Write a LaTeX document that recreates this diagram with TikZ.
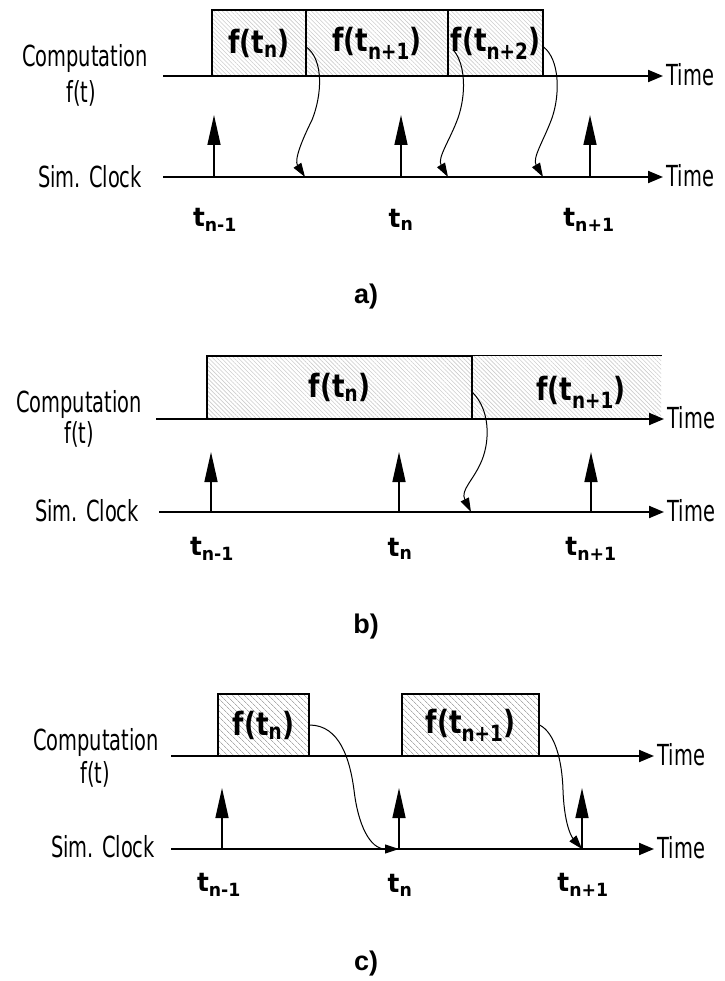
\documentclass[tikz,border=0pt]{standalone}
\usepackage{fontspec}
\setmainfont{Liberation Sans}
\newfontfamily\narrowsans[FakeStretch=0.67]{DejaVu Sans}
\newfontfamily\labsans[FakeStretch=0.95]{DejaVu Sans}
\newfontfamily\boxsans[FakeStretch=0.82]{DejaVu Sans}
\usetikzlibrary{arrows.meta, patterns.meta}

\begin{document}
\begin{tikzpicture}[x=1pt, y=-1pt,
      comp/.style={draw, line width=1.2pt, inner sep=0pt,
                   pattern={Lines[angle=-45, distance=3pt, line width=.6pt]}, pattern color=gray!40,
                   font=\boxsans\bfseries\fontsize{32}{35}\selectfont},
      compc/.style={comp, pattern={Lines[angle=-45, distance=4pt, line width=.8pt]}, pattern color=gray!65},
      flab/.style={font=\boxsans\bfseries\fontsize{32}{35}\selectfont},
      edge/.style={line width=1.2pt},
      side/.style={font=\narrowsans\fontsize{29}{32}\selectfont},
      tlab/.style={font=\labsans\bfseries\fontsize{26}{30}\selectfont},
      panel/.style={font=\bfseries\fontsize{27}{30}\selectfont},
      axis/.style={-{Triangle[length=15pt, width=12pt]}, line width=2pt},
      clk/.style={-{Triangle[length=30pt, width=13pt]}, line width=1.5pt},
      ar/.style={-{Triangle[length=14pt, width=9pt]}, line width=1pt}]

    \useasboundingbox (0,0) rectangle (724,981);

    % a)
    \node[side] (a-comp) at (85,59) {Computation};
    \node[side] (a-ft) at (81,93) {f(t)};
    \node[side] (a-sim) at (90,177) {Sim. Clock};
    \node[comp, minimum width=94pt, minimum height=66pt] (a-f1) at (259,43) {f(t\textsubscript{n})};
    \node[comp, minimum width=142pt, minimum height=66pt] (a-f2) at (377,43) {f(t\textsubscript{n+1})};
    \node[comp, minimum width=95pt, minimum height=66pt] (a-f3) at (495.5,43) {f(t\textsubscript{n+2})};
    \node[side, anchor=west] (a-ctime) at (663,75) {Time};
    \node[side, anchor=west] (a-stime) at (663,176) {Time};
    \coordinate (a-c0) at (163,76);
    \coordinate (a-s0) at (163,177);
    \draw[axis] (a-c0) -- (a-c0 -| a-ctime.west);
    \draw[axis] (a-s0) -- (a-s0 -| a-stime.west);
    \coordinate (a-t1) at (214,177);
    \coordinate (a-t1u) at (214,115);
    \coordinate (a-t2) at (401,177);
    \coordinate (a-t2u) at (401,115);
    \coordinate (a-t3) at (590,177);
    \coordinate (a-t3u) at (590,115);
    \draw[clk] (a-t1) -- (a-t1u);
    \draw[clk] (a-t2) -- (a-t2u);
    \draw[clk] (a-t3) -- (a-t3u);
    \node[tlab] (a-l1) at (215,220) {t\textsubscript{n-1}};
    \node[tlab] (a-l2) at (401,220) {t\textsubscript{n}};
    \node[tlab] (a-l3) at (589,220) {t\textsubscript{n+1}};
    \coordinate (a-e1) at (305,177);
    \coordinate (a-e2) at (448,177);
    \coordinate (a-e3) at (543,177);
    \draw[ar] ([yshift=-4pt]a-f1.east) .. controls (324,60) and (322,95) .. (312,120)
              .. controls (302,140) and (294,160) .. (a-e1);
    \draw[ar] ([shift={(6pt,-7pt)}]a-f3.west) .. controls (466,65) and (466,95) .. (458,118)
              .. controls (450,140) and (437,158) .. (a-e2);
    \draw[ar] ([yshift=-4pt]a-f3.east) .. controls (560,60) and (560,95) .. (552,118)
              .. controls (544,140) and (532,158) .. (a-e3);
    \node[panel] (a-cap) at (366,297) {a)};

    % b)
    \node[side] (b-comp) at (79,404) {Computation};
    \node[side] (b-ft) at (79,434) {f(t)};
    \node[side] (b-sim) at (87,511) {Sim. Clock};
    \node[comp, draw=none, minimum width=189pt, minimum height=63pt] (b-f2) at (566.5,387.5) {};
    \node[comp, minimum width=265pt, minimum height=63pt] (b-f1) at (339.5,387.5) {f(t\textsubscript{n})};
    \draw[edge] (b-f1.north east) -- (b-f2.north east);
    \node[flab] (b-l2) at (581,392) {f(t\textsubscript{n+1})};
    \node[side, anchor=west] (b-ctime) at (664,418) {Time};
    \node[side, anchor=west] (b-stime) at (664,511) {Time};
    \coordinate (b-c0) at (156,419);
    \coordinate (b-s0) at (159,512);
    \draw[axis] (b-c0) -- (b-c0 -| b-ctime.west);
    \draw[axis] (b-s0) -- (b-s0 -| b-stime.west);
    \coordinate (b-t1) at (211,512);
    \coordinate (b-t1u) at (211,452);
    \coordinate (b-t2) at (399,512);
    \coordinate (b-t2u) at (399,452);
    \coordinate (b-t3) at (591,512);
    \coordinate (b-t3u) at (591,452);
    \draw[clk] (b-t1) -- (b-t1u);
    \draw[clk] (b-t2) -- (b-t2u);
    \draw[clk] (b-t3) -- (b-t3u);
    \node[tlab] (b-l1) at (212,549) {t\textsubscript{n-1}};
    \node[tlab] (b-l2) at (400,549) {t\textsubscript{n}};
    \node[tlab] (b-l3) at (591,549) {t\textsubscript{n+1}};
    \coordinate (b-e1) at (471,512);
    \draw[ar] ([yshift=-5pt]b-f1.east) .. controls (490,410) and (490,440) .. (482,460)
              .. controls (474,480) and (460,490) .. (b-e1);
    \node[panel] (b-cap) at (366,627) {b)};

    % c)
    \node[side] (c-comp) at (96,742) {Computation};
    \node[side] (c-ft) at (95,774) {f(t)};
    \node[side] (c-sim) at (103,847) {Sim. Clock};
    \node[compc, minimum width=91pt, minimum height=62pt] (c-f1) at (263.5,725) {f(t\textsubscript{n})};
    \node[compc, minimum width=137pt, minimum height=62pt] (c-f2) at (470.5,725) {f(t\textsubscript{n+1})};
    \node[side, anchor=west] (c-ctime) at (654,755) {Time};
    \node[side, anchor=west] (c-stime) at (654,848) {Time};
    \coordinate (c-c0) at (171,756);
    \coordinate (c-s0) at (171,849);
    \draw[axis] (c-c0) -- (c-c0 -| c-ctime.west);
    \draw[axis] (c-s0) -- (c-s0 -| c-stime.west);
    \coordinate (c-t1) at (222,849);
    \coordinate (c-t1u) at (222,788);
    \coordinate (c-t2) at (399,849);
    \coordinate (c-t2u) at (399,788);
    \coordinate (c-t3) at (582,849);
    \coordinate (c-t3u) at (582,788);
    \draw[clk] (c-t1) -- (c-t1u);
    \draw[clk] (c-t2) -- (c-t2u);
    \draw[clk] (c-t3) -- (c-t3u);
    \node[tlab] (c-l1) at (219,885) {t\textsubscript{n-1}};
    \node[tlab] (c-l2) at (400,885) {t\textsubscript{n}};
    \node[tlab] (c-l3) at (583,885) {t\textsubscript{n+1}};
    \draw[ar] (c-f1.east) .. controls (340,725) and (350,760) .. (354,790)
              .. controls (358,825) and (370,849) .. (c-t2);
    \draw[ar] (c-f2.east) .. controls (555,733) and (562,760) .. (563,790)
              .. controls (564,820) and (570,835) .. (c-t3);
    \node[panel] (c-cap) at (366,964) {c)};
  \end{tikzpicture}
\end{document}
